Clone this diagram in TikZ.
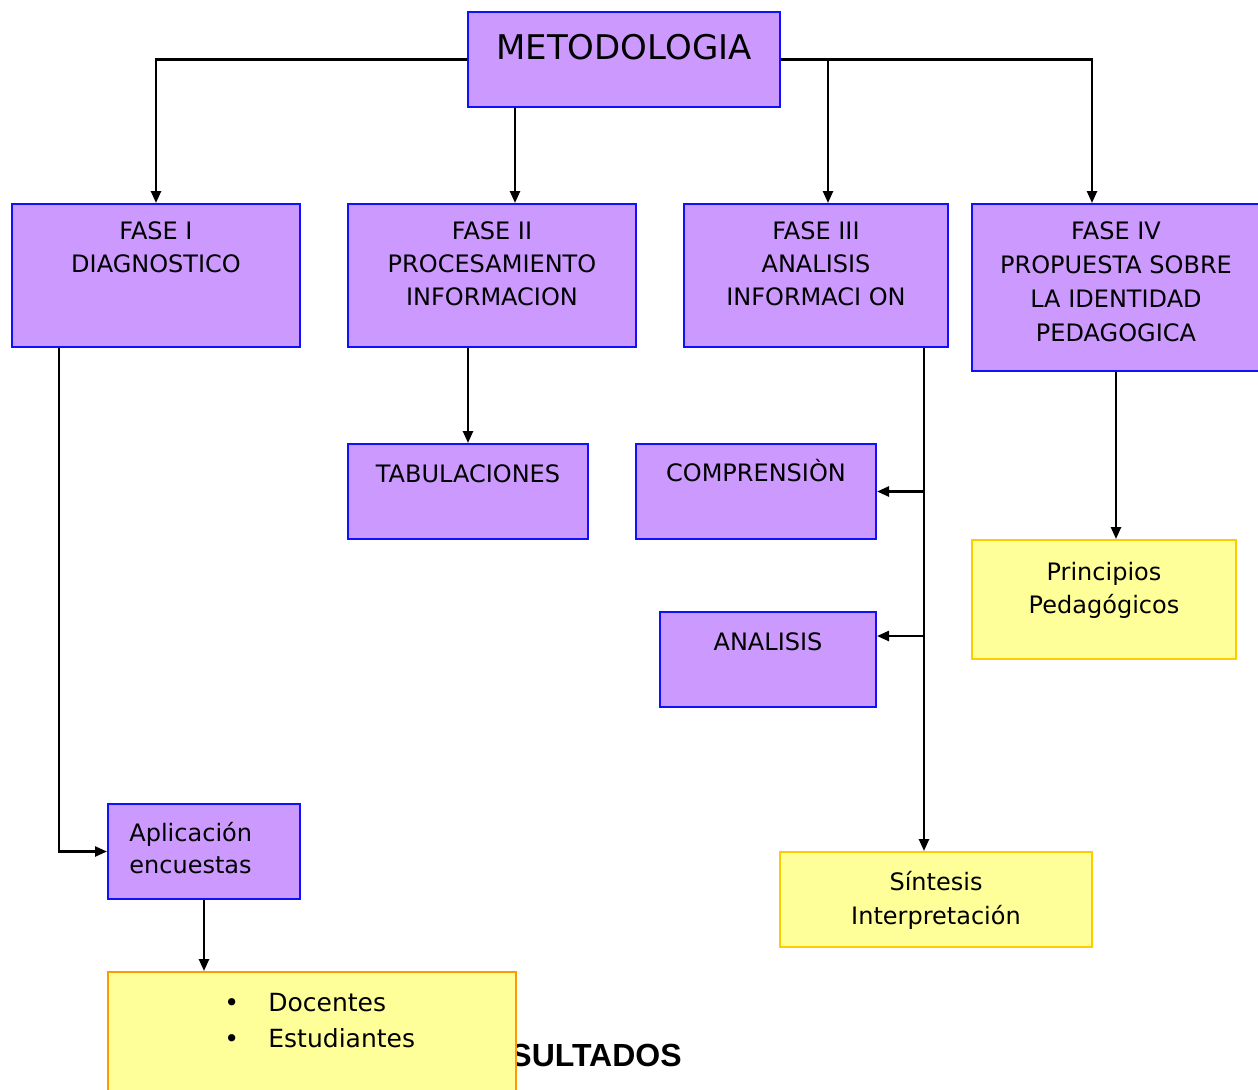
\documentclass[tikz,border=0pt]{standalone}
\usepackage{fontspec}
\setmainfont{DejaVu Sans}
\newfontfamily\resfont{Liberation Sans}
\usetikzlibrary{positioning,arrows.meta}
\definecolor{lila}{HTML}{CC99FF}
\definecolor{azul}{HTML}{1010FF}
\definecolor{amarillo}{HTML}{FFFF99}
\definecolor{oro}{HTML}{FFCC00}
\definecolor{naranja}{HTML}{FF9900}
\tikzset{
  fase/.style={draw=azul, fill=lila, line width=1pt, anchor=north west, inner sep=0pt},
  meta/.style={draw=oro, fill=amarillo, line width=1pt, anchor=north west, inner sep=0pt},
  txt/.style={inner sep=0pt, align=center, font=\fontsize{12pt}{16.5pt}\selectfont},
  conn/.style={line width=1.2pt, -{Triangle[length=6pt,width=5pt]}},
}
\begin{document}
\begin{tikzpicture}[x=0.5pt,y=-0.5pt]
  \clip (0,0) rectangle (1258,1089);
  % cajas
  \node[fase, minimum width=156pt, minimum height=47.5pt] (met) at (467,11) {};
  \node[fase, minimum width=144pt, minimum height=71.5pt] (f1) at (11,203) {};
  \node[fase, minimum width=144pt, minimum height=71.5pt] (f2) at (347,203) {};
  \node[fase, minimum width=132pt, minimum height=71.5pt] (f3) at (683,203) {};
  \node[fase, minimum width=144pt, minimum height=83.5pt] (f4) at (971,203) {};
  \node[fase, minimum width=120pt, minimum height=47.5pt] (tab) at (347,443) {};
  \node[fase, minimum width=120pt, minimum height=47.5pt] (comp) at (635,443) {};
  \node[fase, minimum width=108pt, minimum height=47.5pt] (anal) at (659,611) {};
  \node[meta, minimum width=132pt, minimum height=59.5pt] (prin) at (971,539) {};
  \node[fase, minimum width=96pt, minimum height=47.5pt] (apl) at (107,803) {};
  \node[meta, minimum width=156pt, minimum height=47.5pt] (sint) at (779,851) {};
  \node[inner sep=0pt, anchor=west, font=\resfont\bfseries\fontsize{16pt}{18pt}\selectfont] (res) at (510,1055) {SULTADOS};
  \node[meta, draw=naranja, minimum width=204pt, minimum height=65pt] (doc) at (107,971) {};
  % textos
  \node[txt, font=\fontsize{17pt}{20pt}\selectfont, below=11.25pt of met.north] (met-t) {METODOLOGIA};
  \node[txt, below=9pt of f1.north] (f1-t) {FASE I\\DIAGNOSTICO};
  \node[txt, below=9pt of f2.north] (f2-t) {FASE II\\PROCESAMIENTO\\INFORMACION};
  \node[txt, below=9pt of f3.north] (f3-t) {FASE III\\ANALISIS\\INFORMACI ON};
  \node[txt, font=\fontsize{12pt}{17pt}\selectfont, below=9pt of f4.north] (f4-t) {FASE IV\\PROPUESTA SOBRE\\LA IDENTIDAD\\PEDAGOGICA};
  \node[txt, below=10.5pt of tab.north] (tab-t) {TABULACIONES};
  \node[txt, below=8.1pt of comp.north] (comp-t) {COMPRENSIÒN};
  \node[txt, below=10.5pt of anal.north] (anal-t) {ANALISIS};
  \node[txt, below=11.2pt of prin.north] (prin-t) {Principios\\Pedagógicos};
  \node[txt, font=\fontsize{12pt}{17pt}\selectfont, below=10pt of sint.north] (sint-t) {Síntesis\\Interpretación};
  \node[txt, align=left, anchor=north west, font=\fontsize{12pt}{16pt}\selectfont] (apl-t) at ([xshift=11pt, yshift=-9.3pt]apl.north west) {Aplicación\\encuestas};
  \node[txt, align=left, anchor=north west, font=\fontsize{12.5pt}{18pt}\selectfont] (doc-t) at ([xshift=58.5pt, yshift=-11pt]doc.north west)
    {\makebox[22pt][l]{\textbullet}Docentes\\\makebox[22pt][l]{\textbullet}Estudiantes};
  % conectores
  \coordinate (f2in) at ([xshift=24pt]met.south west);
  \coordinate (f3in) at ([xshift=6pt]f3.north);
  \coordinate (f4in) at ([xshift=-12pt]f4.north);
  \coordinate (f1out) at ([xshift=24pt]f1.south west);
  \coordinate (f3out) at ([xshift=-12.5pt]f3.south east);
  \draw[conn] (met.west) -| (f1.north);
  \draw[conn] (f2in) -- (f2in |- f2.north);
  \draw[conn] (met.east) -| (f4in);
  \draw[conn] (met.east -| f3in) -- (f3in);
  \draw[conn] (f1out) |- (apl.west);
  \draw[conn] (f2.south -| tab.north) -- (tab.north);
  \draw[conn] (f3out) -- (f3out |- sint.north);
  \draw[conn] (f3out |- comp.east) -- (comp.east);
  \draw[conn] (f3out |- 0,636) -- (anal.east |- 0,636);
  \draw[conn] (f4.south) -- (f4.south |- prin.north);
  \draw[conn] (apl.south) -- (apl.south |- doc.north);
\end{tikzpicture}
\end{document}
